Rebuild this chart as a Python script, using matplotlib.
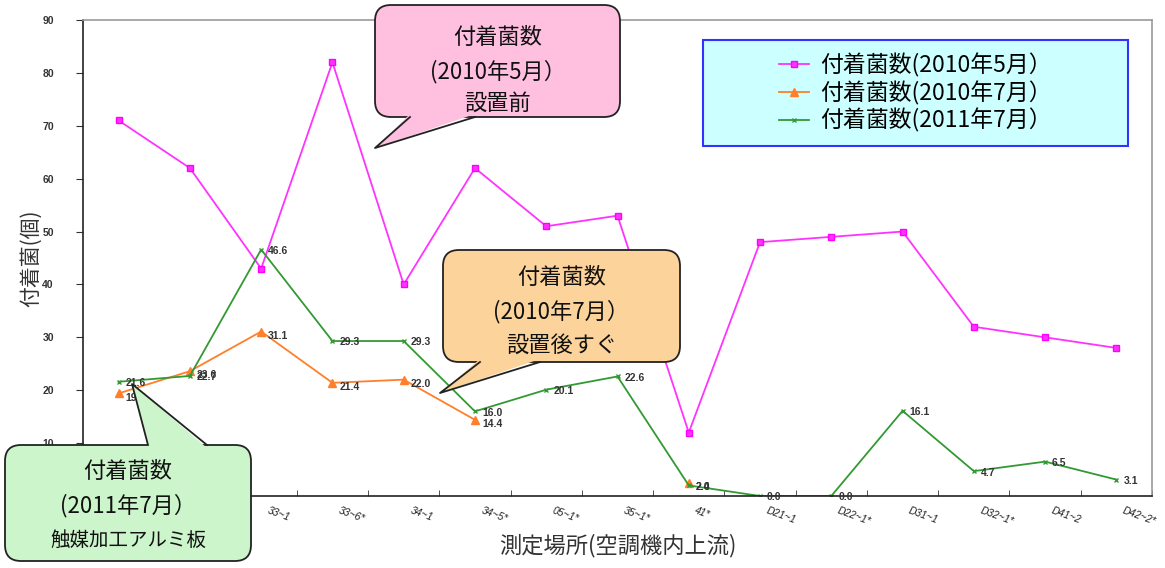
import matplotlib
matplotlib.use("Agg")
import matplotlib.pyplot as plt
import numpy as np
from matplotlib.patches import FancyBboxPatch, Polygon, Rectangle
from matplotlib.lines import Line2D
from matplotlib.transforms import IdentityTransform, ScaledTranslation

plt.rcParams['font.family'] = ['Noto Sans CJK JP', 'DejaVu Sans']

# data
sites = ["31~1", "32~1*", "33~1", "33~6*", "34~1", "34~5*", "05~1*", "35~1*",
         "41*", "D21~1", "D22~1*", "D31~1", "D32~1*", "D41~2", "D42~2*"]
may_2010 = [71, 62, 43, 82, 40, 62, 51, 53, 12, 48, 49, 50, 32, 30, 28]
jul_2010 = [19.4, 23.6, 31.1, 21.4, 22.0, 14.4, np.nan, np.nan, 2.4,
            np.nan, np.nan, np.nan, np.nan, np.nan, np.nan]
jul_2011 = [21.6, 22.7, 46.6, 29.3, 29.3, 16.0, 20.1, 22.6, 2.0, 0.0, 0.0, 16.1, 4.7, 6.5, 3.1]
series_labels = ["付着菌数(2010年5月）", "付着菌数(2010年7月）", "付着菌数(2011年7月）"]
y_ticks = list(range(0, 91, 10))

W, H = 1165, 568
fig = plt.figure(figsize=(W / 100, H / 100), dpi=100)
ax = fig.add_axes([83 / W, 1 - 496 / H, (1152 - 83) / W, (496 - 20) / H])

x = np.arange(len(sites))
l1, = ax.plot(x, may_2010, color="#ff33ff", lw=1.3, marker="s", ms=4.5, mec="#ff00ff")
l2, = ax.plot(x, jul_2010, color="#ff7f2a", lw=1.3, marker="^", ms=6)
l3, = ax.plot(x, jul_2011, color="#339933", lw=1.3, marker="x", ms=3.5, mew=1)

num_font = dict(family=["Liberation Sans", "DejaVu Sans"], fontsize=7.5,
                fontweight="bold", color="#333333")
for xi, v in zip(x, jul_2010):
    if not np.isnan(v):
        ax.annotate(f"{v:.1f}", (xi, v), xytext=(5, -3), textcoords="offset points",
                    ha="left", va="center", **num_font)
for xi, v in zip(x, jul_2011):
    ax.annotate(f"{v:.1f}", (xi, v), xytext=(5, -1), textcoords="offset points",
                ha="left", va="center", **num_font)

ax.set_xlim(-0.5, len(sites) - 0.5)
ax.set_ylim(0, 90)
ax.set_yticks(y_ticks)
ax.set_yticklabels([str(t) for t in y_ticks], **num_font)
ax.tick_params(axis="y", direction="out", length=5, pad=16, color="#333333")

ax.set_xticks(x)
ax.set_xticks(np.arange(-0.5, len(sites), 1.0), minor=True)
ax.tick_params(axis="x", which="major", length=0, pad=7)
ax.tick_params(axis="x", which="minor", direction="in", length=4, color="#333333")
ax.set_xticklabels(sites, rotation=-20, ha="left", va="top", rotation_mode="anchor",
                   family=["Liberation Sans", "DejaVu Sans"], fontsize=7.5,
                   fontstyle="italic", color="#222222")
for lab in ax.get_xticklabels():
    lab.set_transform(lab.get_transform() + ScaledTranslation(6 / 72, 0, fig.dpi_scale_trans))

for s in ["left", "bottom"]:
    ax.spines[s].set_color("#222222")
    ax.spines[s].set_linewidth(1.2)
for s in ["top", "right"]:
    ax.spines[s].set_color("#999999")
    ax.spines[s].set_linewidth(1.2)

ax.set_ylabel("付着菌(個)", fontsize=15, color="#333333", labelpad=0)
ax.set_xlabel("測定場所(空調機内上流)", fontsize=16, color="#333333", labelpad=5)

# legend box
fig.add_artist(Rectangle((703, H - 146), 425, 106, transform=IdentityTransform(),
                         facecolor="#ccffff", edgecolor="#3333ff", lw=1.5, zorder=1))
fig.legend([l1, l2, l3], series_labels, loc="center",
           bbox_to_anchor=((703 + 425 / 2) / W, 1 - 93 / H), frameon=False,
           fontsize=16.5, handlelength=1.3, handletextpad=0.5, labelspacing=0.15)


def bubble(x0, y0, x1, y1, tail, color, lines, sizes, line_y):
    fig.add_artist(FancyBboxPatch((x0, H - y1), x1 - x0, y1 - y0,
                                  boxstyle="round,pad=0,rounding_size=16",
                                  transform=IdentityTransform(), facecolor=color,
                                  edgecolor="#222222", lw=1.3, zorder=2))
    (bx1, by1), (tx, ty), (bx2, by2) = tail
    inset = 3 if ty > by1 else -3
    fig.add_artist(Polygon([(bx1, H - by1 + inset), (tx, H - ty), (bx2, H - by2 + inset)],
                           closed=True, transform=IdentityTransform(), facecolor=color,
                           edgecolor="none", zorder=2.1))
    fig.add_artist(Line2D([bx1, tx, bx2], [H - by1, H - ty, H - by2], color="#222222",
                          lw=1.3, transform=IdentityTransform(), zorder=2.2))
    cx = (x0 + x1) / 2
    for txt, fs, yy in zip(lines, sizes, line_y):
        fig.text(cx / W, 1 - yy / H, txt, ha="center", va="center", fontsize=fs,
                 color="#111111", zorder=3)


bubble(375, 5, 620, 117, [(410, 117), (375, 148), (475, 117)], "#ffc0e0",
       ["付着菌数", "(2010年5月）", "設置前"], [16, 16, 16], [38, 72, 103])
bubble(443, 250, 680, 362, [(480, 362), (440, 393), (540, 362)], "#fcd39a",
       ["付着菌数", "(2010年7月）", "設置後すぐ"], [16, 16, 16], [278, 312, 345])
bubble(5, 445, 251, 561, [(148, 445), (132, 384), (207, 445)], "#ccf5cc",
       ["付着菌数", "(2011年7月）", "触媒加工アルミ板"], [16, 16, 14], [472, 506, 540])

fig.savefig("out.png", dpi=100)
